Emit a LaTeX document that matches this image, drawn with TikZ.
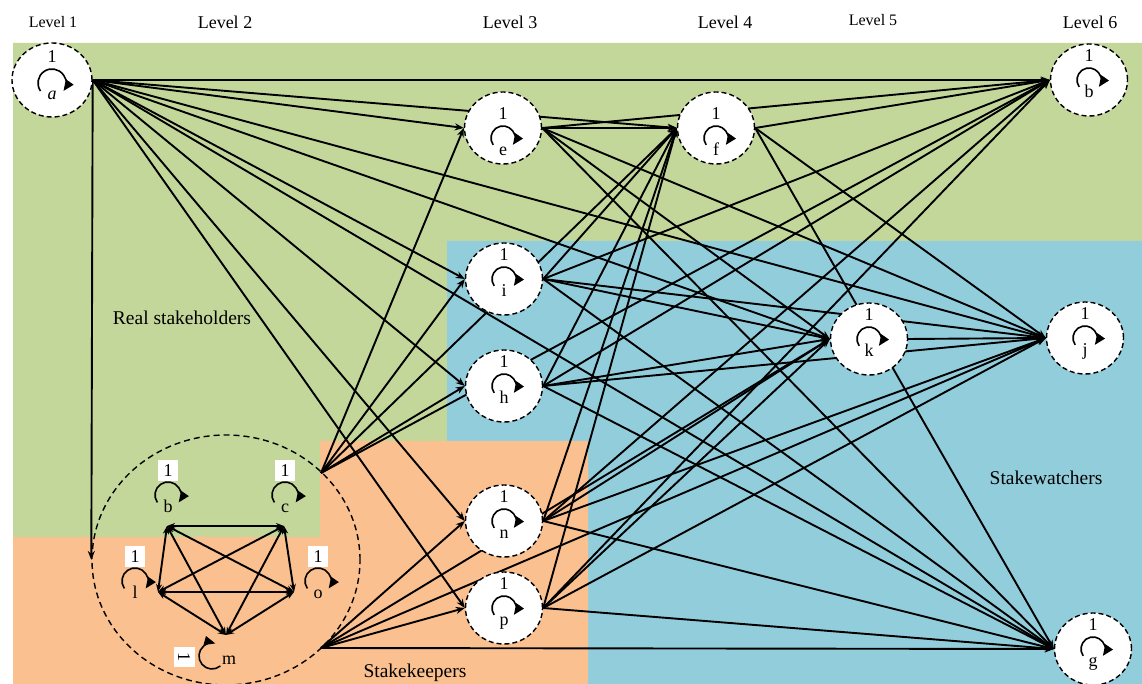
\documentclass[tikz,border=0pt]{standalone}
\usepackage{fontspec}
\setmainfont{Liberation Serif}
\usetikzlibrary{arrows.meta,shapes.geometric,calc}
\pgfdeclarelayer{bg}
\pgfdeclarelayer{edges}
\pgfsetlayers{bg,edges,main}
\definecolor{grn}{HTML}{C4D79B}
\definecolor{blu}{HTML}{92CDDC}
\definecolor{org}{HTML}{FAC090}
\newcommand{\fz}[1]{\fontsize{#1}{#1}\selectfont}
\tikzset{
  stn/.style={ellipse, draw, dash pattern=on 5pt off 3pt, fill=white, line width=1.4pt,
    minimum width=77pt, minimum height=72pt, inner sep=0pt},
  lab/.style={font=\fz{18}, inner sep=0pt, anchor=base},
  lvl/.style={font=\fz{18}, inner sep=0pt},
  big/.style={font=\fz{19.5}, inner sep=0pt},
  lp/.style={line width=1.6pt, -{Triangle[length=11pt,width=9pt]}},
  ed/.style={line width=1.9pt, -{Stealth[length=9pt,width=7pt]}},
  pe/.style={line width=1.9pt, {Stealth[length=8pt,width=6pt]}-{Stealth[length=8pt,width=6pt]}},
  onebox/.style={fill=white, font=\fz{18}, inner sep=0pt, minimum width=20pt, minimum height=21pt},
}
% standard stakeholder node: name, x, y, letter, vertical shift of content
\newcommand{\stk}[5]{%
  \node[stn] (#1) at (#2,#3) {};
  \node[lab] (#1one) at ($(#1)+(0,18+#5)$) {1};
  \draw[lp] ($(#1)+(0,#5)+(215:12)$) arc[start angle=215,end angle=-35,radius=12];
  \node[lab] (#1let) at ($(#1)+(0,-18+#5)$) {#4};
}
% cluster item: name, x, y, letter
\newcommand{\clit}[4]{%
  \node[onebox] (#1one) at (#2,#3) {1};
  \draw[lp] ($(#2,#3)+(0,-24)+(215:13)$) arc[start angle=215,end angle=-35,radius=13];
  \node[lab] (#1let) at ($(#2,#3)+(0,-42)$) {#4};
}
\begin{document}
\begin{tikzpicture}[x=1pt,y=1pt]
\useasboundingbox (0,0) rectangle (1142,684);
% regions
\begin{pgfonlayer}{bg}
  \fill[grn] (13,641) -- (1142,641) -- (1142,443) -- (447,443) -- (447,243) -- (320,243) -- (320,147) -- (13,147) -- cycle;
  \fill[blu] (447,443) -- (1142,443) -- (1142,0) -- (588,0) -- (588,243) -- (447,243) -- cycle;
  \fill[org] (13,147) -- (320,147) -- (320,243) -- (588,243) -- (588,0) -- (13,0) -- cycle;
\end{pgfonlayer}
% level labels
\node[lvl, font=\fz{16}] (L1) at (53,662) {Level 1};
\node[lvl] (L2) at (225,662) {Level 2};
\node[lvl] (L3) at (510,662) {Level 3};
\node[lvl] (L4) at (725,662) {Level 4};
\node[lvl, font=\fz{16}] (L5) at (873,664) {Level 5};
\node[lvl] (L6) at (1090,662) {Level 6};
% group labels
\node[big] (rs) at (182,366) {Real stakeholders};
\node[big] (sw) at (1046,206) {Stakewatchers};
\node[big] (sk) at (415,11) {Stakekeepers};
% node a
\node[stn, minimum width=80pt, minimum height=74pt] (a) at (52,604) {};
\node[lab] (aone) at (52,621) {1};
\draw[lp] ($(52,601)+(215:14)$) arc[start angle=215,end angle=-35,radius=14];
\node[lab] (alet) at (52,584) {\itshape a};
% other nodes
\stk{e}{503}{556}{e}{-10}
\stk{f}{716}{556}{f}{-10}
\stk{bsix}{1089}{604}{b}{0}
\stk{i}{504}{405}{i}{0}
\stk{h}{504}{298}{h}{0}
\stk{k}{869}{345}{k}{0}
\stk{j}{1085}{346}{j}{0}
\stk{n}{504}{163}{n}{0}
\stk{p}{504}{76}{p}{0}
\stk{g}{1093}{35}{g}{0}
% cluster
\node[ellipse, draw, dash pattern=on 6pt off 4pt, line width=1.4pt, minimum width=268pt, minimum height=250pt, inner sep=0pt] (cl) at (226,124) {};
\coordinate (P1) at (321,211);
\coordinate (P2) at (321,36);
\clit{cb}{168}{213}{b}
\clit{cc}{285}{213}{c}
\clit{cl1}{135}{127}{l}
\clit{co}{318}{127}{o}
\node[onebox, rotate=-90] (cmone) at (184,27) {1};
\draw[lp] ($(212,28)+(-50:13)$) arc[start angle=-50,end angle=-285,radius=13];
\node[lab] (cmlet) at (229,19) {m};
\coordinate (B) at (167,158);
\coordinate (C) at (284,158);
\coordinate (L) at (158,92);
\coordinate (O) at (294,92);
\coordinate (M) at (226,49);
% edges
\begin{pgfonlayer}{edges}
  \foreach \t in {bsix,e,f,i,h,n,p,k,j,g} \draw[ed] (a.east) -- (\t.west);
  \draw[ed] (a.east) -- (cl.west);
  \foreach \t in {e,i,h,f,bsix} \draw[ed] (P1) -- (\t.west);
  \foreach \t in {n,p,k,j,g} \draw[ed] (P2) -- (\t.west);
  \foreach \s in {e,i,h,n,p} {
    \foreach \t in {f,k,bsix,j,g} \draw[ed] (\s.east) -- (\t.west);
  }
  \foreach \t in {bsix,j,g} \draw[ed] (f.east) -- (\t.west);
  \draw[ed] (k.east) -- (j.west);
  \draw[pe] (B) -- (C);
  \draw[pe] (B) -- (L);
  \draw[pe] (B) -- (O);
  \draw[pe] (B) -- (M);
  \draw[pe] (C) -- (L);
  \draw[pe] (C) -- (O);
  \draw[pe] (C) -- (M);
  \draw[pe] (L) -- (O);
  \draw[pe] (L) -- (M);
  \draw[pe] (O) -- (M);
\end{pgfonlayer}
\end{tikzpicture}
\end{document}
